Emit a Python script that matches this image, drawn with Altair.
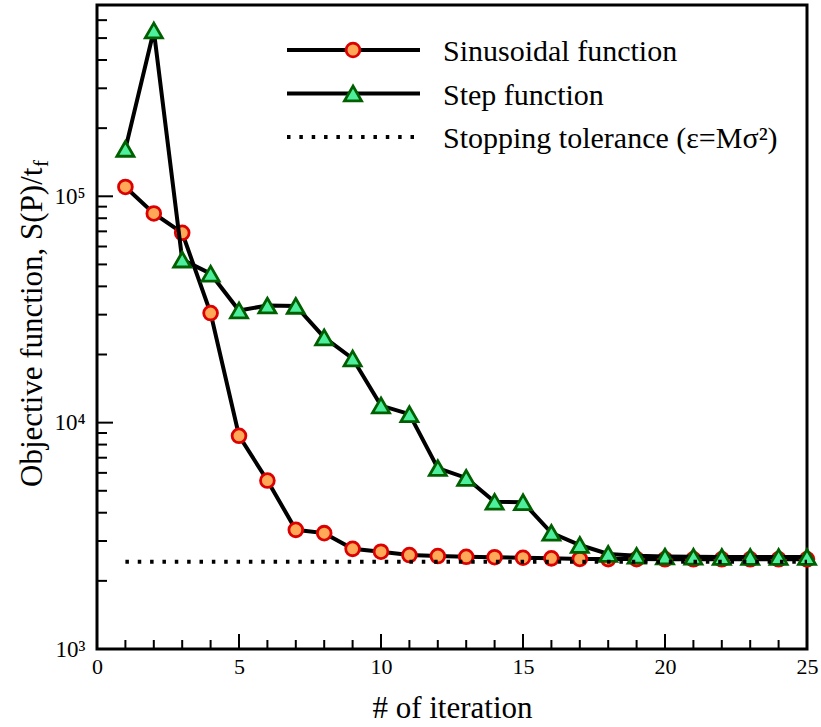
import altair as alt
import pandas as pd

# ---- data ----
iterations = list(range(1, 26))
sinusoidal = [110000, 84000, 69000, 30500, 8750, 5550, 3360, 3250, 2770, 2690,
              2600, 2575, 2555, 2545, 2530, 2515, 2500, 2495, 2495, 2490,
              2490, 2490, 2490, 2490, 2490]
step = [162000, 540000, 52500, 45500, 31300, 32900, 32800, 23800, 19200, 11900,
        10900, 6300, 5700, 4470, 4450, 3260, 2880, 2630, 2580, 2560,
        2555, 2550, 2550, 2550, 2550]
tolerance_value = 2430
tolerance_x = [1, 25]

x_major = [0, 5, 10, 15, 20, 25]
x_minor = [v for v in range(1, 25) if v % 5 != 0]
y_major = [1000, 10000, 100000]
y_tick_labels = ["10³", "10⁴", "10⁵"]
y_minor = [m * d for d in (1000, 10000) for m in range(2, 10)] + [200000, 300000, 400000, 500000, 600000]

legend_labels = ["Sinusoidal function", "Step function", "Stopping tolerance (ε=Mσ²)"]
y_title = "Objective function, S(P)/t"
y_title_sub = "f"
x_title = "# of iteration"

FONT = "Liberation Serif, Tinos, Times New Roman, DejaVu Serif, serif"
W, H = 710, 644

xscale = alt.Scale(domain=[0, 25], nice=False, zero=False)
yscale = alt.Scale(type="log", domain=[1000, 700000], nice=False)

label_expr = " : ".join(
    f"datum.value == {v} ? '{t}'" for v, t in zip(y_major, y_tick_labels)
) + " : ''"

x_axis = alt.Axis(values=x_major, title=x_title, ticks=False, domain=False, grid=False,
                  labelFontSize=22, labelPadding=7, labelFlush=False, labelColor="black",
                  labelFont=FONT, titleFont=FONT,
                  titleFontSize=31, titleFontWeight="normal", titleColor="black",
                  titleBaseline="alphabetic", titleY=68)
y_axis = alt.Axis(values=y_major, labelExpr=label_expr, title=None, ticks=False, domain=False,
                  grid=False, labelFontSize=23, labelPadding=12, labelColor="black",
                  labelFont=FONT, labelBaseline="middle")

X = lambda f: alt.X(f, scale=xscale, axis=x_axis)
Y = lambda f: alt.Y(f, scale=yscale, axis=y_axis)

df_sin = pd.DataFrame({"it": iterations, "val": sinusoidal})
df_step = pd.DataFrame({"it": iterations, "val": step})
df_tol = pd.DataFrame({"x": [tolerance_x[0]], "x2": [tolerance_x[1]], "y": [tolerance_value]})

CIRC = dict(shape="circle", size=190, filled=True, fill="#FFA858", stroke="#DD0000",
            strokeWidth=2.8, opacity=1)
TRI = dict(shape="triangle-up", size=290, filled=True, fill="#4DEF9C", stroke="#005F00",
           strokeWidth=2.8, opacity=1)

base_sin = alt.Chart(df_sin)
sin_line = base_sin.mark_line(color="black", strokeWidth=4).encode(x=X("it:Q"), y=Y("val:Q"))
sin_pts = base_sin.mark_point(**CIRC).encode(x=X("it:Q"), y=Y("val:Q"))
base_step = alt.Chart(df_step)
step_line = base_step.mark_line(color="black", strokeWidth=4).encode(x=X("it:Q"), y=Y("val:Q"))
step_pts = base_step.mark_point(**TRI).encode(x=X("it:Q"), y=Y("val:Q"))
tol_line = alt.Chart(df_tol).mark_rule(color="black", strokeWidth=4,
                                       strokeDash=[3.5, 8.85]).encode(
    x=X("x:Q"), x2="x2:Q", y=Y("y:Q"))

# inward ticks
def xticks(vals, length):
    return alt.Chart(pd.DataFrame({"v": vals})).mark_rule(color="black", strokeWidth=2).encode(
        x=X("v:Q"), y=alt.value(H), y2=alt.value(H - length))

def yticks(vals, length):
    return alt.Chart(pd.DataFrame({"v": vals})).mark_rule(color="black", strokeWidth=2).encode(
        y=Y("v:Q"), x=alt.value(0), x2=alt.value(length))

ticks = [xticks(x_major, 15), xticks(x_minor, 9), yticks(y_major, 16), yticks(y_minor, 10)]

# y-axis title with subscript
ytitle = alt.Chart(pd.DataFrame({"t": [y_title]})).mark_text(
    font=FONT, fontSize=31, angle=270, align="left", baseline="alphabetic", color="black").encode(
    text="t:N", x=alt.value(-55), y=alt.value(482))
ysub = alt.Chart(pd.DataFrame({"t": [y_title_sub]})).mark_text(
    font=FONT, fontSize=21, angle=270, align="left", baseline="alphabetic", color="black").encode(
    text="t:N", x=alt.value(-49), y=alt.value(162))

# legend
leg_y = [45, 88.5, 132]
legend_layers = []
for i, lab in enumerate(legend_labels):
    d = pd.DataFrame({"t": [lab]})
    legend_layers.append(alt.Chart(d).mark_text(font=FONT, fontSize=30, align="left",
                                                baseline="middle", color="black").encode(
        text="t:N", x=alt.value(346), y=alt.value(leg_y[i] + 2)))
    rule_kw = dict(color="black", strokeWidth=4)
    if i == 2:
        rule_kw["strokeDash"] = [3.5, 8.85]
    legend_layers.append(alt.Chart(d).mark_rule(**rule_kw).encode(
        x=alt.value(190), x2=alt.value(323), y=alt.value(leg_y[i])))
legend_layers.append(alt.Chart(pd.DataFrame({"t": [legend_labels[0]]})).mark_point(**CIRC).encode(
    x=alt.value(256), y=alt.value(leg_y[0])))
legend_layers.append(alt.Chart(pd.DataFrame({"t": [legend_labels[1]]})).mark_point(**TRI).encode(
    x=alt.value(256), y=alt.value(leg_y[1])))

chart = alt.layer(
    sin_line, sin_pts, step_line, step_pts, tol_line, *ticks, ytitle, ysub, *legend_layers
).properties(
    width=W, height=H,
    autosize=alt.AutoSizeParams(type="none"),
    padding={"left": 97, "top": 5, "right": 14, "bottom": 78},
    background="white",
).configure(
    font=FONT,
    view=alt.ViewConfig(stroke="black", strokeWidth=3),
)

chart.save("out.html", embed_options={"renderer": "svg", "actions": False})
